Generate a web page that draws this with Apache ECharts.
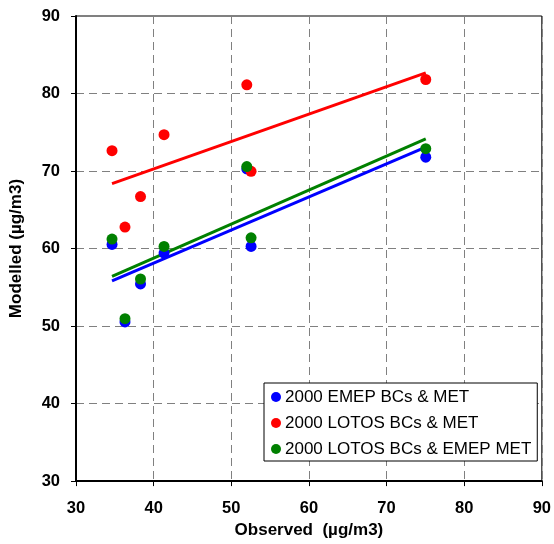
<!DOCTYPE html>
<html>
<head>
<meta charset="utf-8">
<script src="https://cdn.jsdelivr.net/npm/echarts@6/dist/echarts.min.js"></script>
<style>
  html, body { margin: 0; padding: 0; background: #fff; }
  #chart { width: 554px; height: 544px; }
</style>
</head>
<body>
<div id="chart"></div>
<script>
// Observed concentrations at the stations (µg/m3)
const observed = [34.64, 36.31, 38.31, 41.34, 52.0, 52.55, 75.05];

// Modelled concentrations for each run, same station order
const emepBcsMet = [60.53, 50.54, 55.43, 59.42, 70.27, 60.27, 71.78];
const lotosBcsMet = [72.63, 62.77, 66.70, 74.69, 81.12, 69.97, 81.81];
const lotosBcsEmepMet = [61.22, 50.96, 56.07, 60.27, 70.57, 61.39, 72.88];

const seriesNames = ['2000 EMEP BCs & MET', '2000 LOTOS BCs & MET', '2000 LOTOS BCs & EMEP MET'];
const seriesColors = ['#0000ff', '#ff0000', '#008000'];

const axisTicks = [30, 40, 50, 60, 70, 80, 90];

// Least-squares trend line, drawn over the observed range
function trend(xs, ys) {
  const n = xs.length;
  const mx = xs.reduce((a, b) => a + b, 0) / n;
  const my = ys.reduce((a, b) => a + b, 0) / n;
  let sxy = 0, sxx = 0;
  for (let i = 0; i < n; i++) {
    sxy += (xs[i] - mx) * (ys[i] - my);
    sxx += (xs[i] - mx) * (xs[i] - mx);
  }
  const k = sxy / sxx;
  const b = my - k * mx;
  const x0 = Math.min(...xs), x1 = Math.max(...xs);
  return [[x0, k * x0 + b], [x1, k * x1 + b]];
}

const runs = [emepBcsMet, lotosBcsMet, lotosBcsEmepMet];

const series = [];
runs.forEach((vals, i) => {
  series.push({
    name: 'trend ' + i,
    type: 'line',
    data: trend(observed, vals),
    showSymbol: false,
    symbol: 'none',
    silent: true,
    lineStyle: { color: seriesColors[i], width: 3 },
    z: 2
  });
});
runs.forEach((vals, i) => {
  series.push({
    name: seriesNames[i],
    type: 'scatter',
    data: observed.map((x, j) => [x, vals[j]]),
    symbol: 'circle',
    symbolSize: 11,
    itemStyle: { color: seriesColors[i], opacity: 1 },
    z: 3
  });
});

const gridLine = { show: true, lineStyle: { color: '#808080', width: 1, type: [8, 5] } };

const chart = echarts.init(document.getElementById('chart'), null, { renderer: 'canvas' });
chart.setOption({
  animation: false,
  backgroundColor: '#ffffff',
  textStyle: { fontFamily: 'Liberation Sans, Arial, sans-serif' },
  grid: {
    left: 76, right: 9, top: 16, bottom: 62,
    show: true, borderColor: '#000', borderWidth: 1, backgroundColor: 'transparent'
  },
  xAxis: {
    type: 'value',
    min: axisTicks[0], max: axisTicks[axisTicks.length - 1], interval: 10,
    name: 'Observed  (µg/m3)',
    nameLocation: 'middle', nameGap: 39,
    nameTextStyle: { fontSize: 17, fontWeight: 'bold', color: '#000' },
    axisLine: { show: true, onZero: false, lineStyle: { color: '#000', width: 2 } },
    axisTick: { show: true, inside: false, length: 5, lineStyle: { color: '#000', width: 1 } },
    axisLabel: { fontSize: 16.5, fontWeight: 'bold', color: '#000', margin: 19 },
    splitLine: gridLine
  },
  yAxis: {
    type: 'value',
    min: axisTicks[0], max: axisTicks[axisTicks.length - 1], interval: 10,
    name: 'Modelled (µg/m3)',
    nameLocation: 'middle', nameGap: 51, nameRotate: 90,
    nameTextStyle: { fontSize: 17, fontWeight: 'bold', color: '#000' },
    axisLine: { show: true, onZero: false, lineStyle: { color: '#000', width: 2 } },
    axisTick: { show: true, inside: false, length: 5, lineStyle: { color: '#000', width: 1 } },
    axisLabel: { fontSize: 16.5, fontWeight: 'bold', color: '#000', margin: 16 },
    splitLine: gridLine
  },
  legend: {
    data: seriesNames,
    orient: 'vertical',
    left: 264, top: 383,
    padding: [5, 6, 3, 7],
    itemGap: 8,
    itemWidth: 10, itemHeight: 10,
    icon: 'circle',
    borderColor: '#000', borderWidth: 1,
    backgroundColor: '#fff',
    textStyle: { fontSize: 17, color: '#000', lineHeight: 18, padding: [0, 0, 0, -1] },
    selectedMode: false
  },
  series: series
});
</script>
</body>
</html>
